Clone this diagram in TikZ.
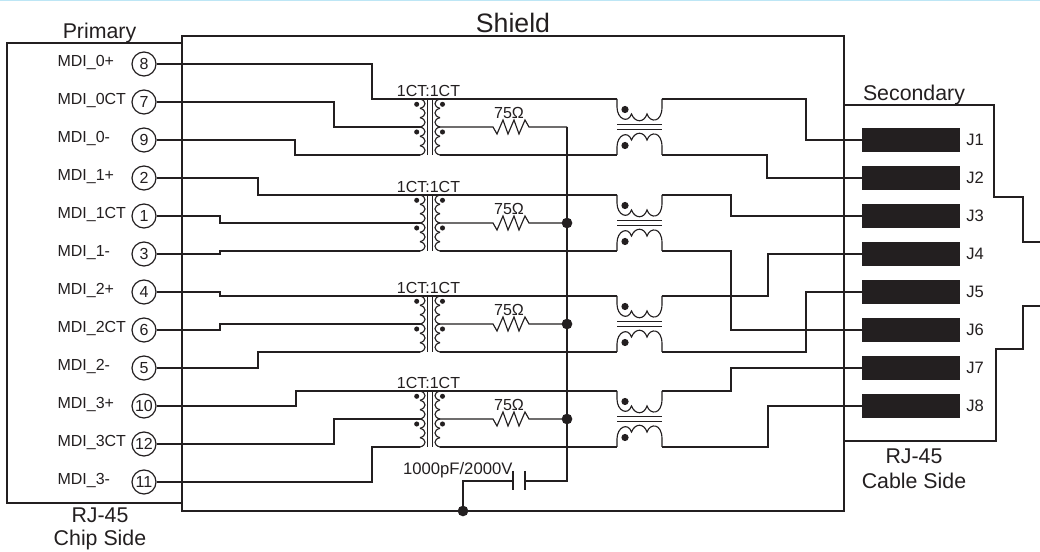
\documentclass[tikz,border=0pt]{standalone}
\usepackage{fontspec}
\setmainfont{Liberation Sans}
\definecolor{ink}{HTML}{231F20}
\definecolor{band}{HTML}{BDE6F5}
\tikzset{
  wire/.style={draw=ink,line width=1.05pt,line join=miter},
  thin wire/.style={draw=ink,line width=0.85pt},
  pin/.style={circle,draw=ink,line width=0.9pt,minimum size=18pt,inner sep=0pt,font=\fontsize{12}{12}\selectfont,text=ink},
  plabel/.style={anchor=west,inner sep=0pt,font=\fontsize{12}{12}\selectfont,text=ink},
  jack/.style={rectangle,fill=ink,minimum width=73.5pt,minimum height=18pt,inner sep=0pt},
  jlabel/.style={anchor=west,inner sep=0pt,font=\fontsize{12.4}{12.4}\selectfont,text=ink},
  big/.style={inner sep=0pt,font=\fontsize{16}{16}\selectfont,text=ink,align=center},
  small/.style={inner sep=0pt,font=\fontsize{12}{12}\selectfont,text=ink},
  junction/.style={circle,fill=ink,minimum size=8pt,inner sep=0pt},
  dotmark/.style={circle,fill=ink,minimum size=#1,inner sep=0pt},
}
\begin{document}
\begin{tikzpicture}[x=0.75pt,y=-0.75pt]
\useasboundingbox (0,0) rectangle (1040,552);
\fill[white] (0,0) rectangle (1040,552);
\fill[band] (0,0) rectangle (1040,1.2);
% outlines
\draw[wire] (182,43) -- (7,43) -- (7,503) -- (182,503);
\draw[wire] (182,36) rectangle (844,511);
\draw[wire] (844,105) -- (994,105) -- (994,197) -- (1023,197) -- (1023,242) -- (1040,242);
\draw[wire] (1040,306) -- (1023,306) -- (1023,349) -- (996,349) -- (996,441) -- (844,441);
\node[inner sep=0pt,font=\fontsize{20}{20}\selectfont,text=ink] (shield) at (513,23) {Shield};
\node[big] (primary) at (99.5,33) {Primary};
\node[big] (secondary) at (914,95) {Secondary};
\node[big] (chip1) at (100,515) {RJ-45};
\node[big] (chip2) at (100,540) {Chip Side};
\node[big] (cable1) at (914,456) {RJ-45};
\node[big] (cable2) at (914,481) {Cable Side};
% pins
\foreach \nm/\num/\lab/\y in {p8/8/MDI\_0+/64,p7/7/MDI\_0CT/102,p9/9/MDI\_0-/140,p2/2/MDI\_1+/178,p1/1/MDI\_1CT/216,p3/3/MDI\_1-/254,p4/4/MDI\_2+/292,p6/6/MDI\_2CT/330,p5/5/MDI\_2-/368,p10/10/MDI\_3+/406,p12/12/MDI\_3CT/444,p11/11/MDI\_3-/482}{
  \node[pin] (\nm) at (144,\y) {\num};
  \node[plabel] (l\nm) at (57.3,\y-1) {\lab};
}
% jacks
\foreach \n/\y in {1/140,2/178,3/216,4/254,5/292,6/330,7/368,8/406}{
  \node[jack] (j\n) at (911,\y) {};
  \node[jlabel] (jl\n) at (966,\y) {J\n};
}
% transformers
\foreach \n/\y in {A/99,B/195,C/296,D/391}{
  \coordinate (\n tl) at (420,\y);
  \coordinate (\n cl) at (420,\y+28);
  \coordinate (\n bl) at (420,\y+56);
  \coordinate (\n tr) at (440,\y);
  \coordinate (\n cr) at (440,\y+28);
  \coordinate (\n br) at (440,\y+56);
  \coordinate (\n ftl) at (617,\y);
  \coordinate (\n ftr) at (662,\y);
  \coordinate (\n fbl) at (617,\y+56);
  \coordinate (\n fbr) at (662,\y+56);
  \foreach \i in {0,...,5}{
    \draw[thin wire] (420,\y+\i*9.333) .. controls (426.7,\y+\i*9.333+1.5) and (426.7,\y+\i*9.333+7.8) .. (420,\y+\i*9.333+9.333);
    \draw[thin wire] (440,\y+\i*9.333) .. controls (433.3,\y+\i*9.333+1.5) and (433.3,\y+\i*9.333+7.8) .. (440,\y+\i*9.333+9.333);
  }
  \draw[thin wire] (427.5,\y) -- (427.5,\y+56) (432.5,\y) -- (432.5,\y+56);
  \node[dotmark=3.8pt] (\n d1) at (416.7,\y+5.3) {};
  \node[dotmark=3.8pt] (\n d2) at (416.7,\y+33) {};
  \node[dotmark=3.8pt] (\n d3) at (442.5,\y+5.3) {};
  \node[dotmark=3.8pt] (\n d4) at (442.5,\y+33) {};
  \node[small] (\n ratio) at (428.5,\y-8) {1CT:1CT};
  % common-mode choke
  \draw[thin wire] (\n ftl) -- (617,\y+8) .. controls (617,\y+20) and (628,\y+25) .. (631.5,\y+15)
     .. controls (635,\y+24) and (644,\y+24) .. (647,\y+15)
     .. controls (650,\y+24) and (662,\y+24) .. (662,\y+8) -- (\n ftr);
  \draw[thin wire] (\n fbl) -- (617,\y+48) .. controls (617,\y+36) and (628,\y+31) .. (631.5,\y+41)
     .. controls (635,\y+32) and (644,\y+32) .. (647,\y+41)
     .. controls (650,\y+32) and (662,\y+32) .. (662,\y+48) -- (\n fbr);
  \draw[thin wire] (617,\y+25.5) -- (662,\y+25.5) (617,\y+30.5) -- (662,\y+30.5);
  \node[dotmark=5.4pt] (\n d5) at (625,\y+10.5) {};
  \node[dotmark=5.4pt] (\n d6) at (625,\y+46.5) {};
  % resistor
  \coordinate (\n ra) at (493,\y+28);
  \coordinate (\n rb) at (529,\y+28);
  \draw[thin wire] (\n cr) -- (\n ra) -- (497,\y+35) -- (503,\y+21) -- (508,\y+35) -- (514,\y+21) -- (519,\y+35) -- (525,\y+21) -- (\n rb) -- (567,\y+28);
  \node[small] (\n res) at (509,\y+14) {75Ω};
  % through wires
  \draw[wire] (\n tl) -- (\n ftl);
  \draw[wire] (\n br) -- (\n fbl);
}
% common node
\coordinate (capL) at (513,481);
\coordinate (capR) at (525,481);
\coordinate (gnd) at (463,511);
\draw[wire] (567,127) -- (567,481) -- (capR);
\draw[wire] (gnd) -- (463,481) -- (capL);
\draw[wire] (capL) ++(0,-10) -- ++(0,19.5);
\draw[wire] (capR) ++(0,-10) -- ++(0,19.5);
\node[inner sep=0pt,font=\fontsize{12.5}{12.5}\selectfont,text=ink,anchor=east] (capt) at (512.7,470) {1000pF/2000V};
\node[junction] (n1) at (567,223) {};
\node[junction] (n2) at (567,324) {};
\node[junction] (n3) at (567,419) {};
\node[junction] (n4) at (gnd) {};
% primary wires
\draw[wire] (p8.east) -| (372,99) -- (Atl);
\draw[wire] (p7.east) -| (334,127) -- (Acl);
\draw[wire] (p9.east) -| (295,155) -- (Abl);
\draw[wire] (p2.east) -| (258,195) -- (Btl);
\draw[wire] (p1.east) -| (220,223) -- (Bcl);
\draw[wire] (p3.east) -| (220,251) -- (Bbl);
\draw[wire] (p4.east) -| (220,296) -- (Ctl);
\draw[wire] (p6.east) -| (220,324) -- (Ccl);
\draw[wire] (p5.east) -| (258,352) -- (Cbl);
\draw[wire] (p10.east) -| (296,391) -- (Dtl);
\draw[wire] (p12.east) -| (334,419) -- (Dcl);
\draw[wire] (p11.east) -| (372,447) -- (Dbl);
% secondary wires
\draw[wire] (Aftr) -| (806,140) -- (j1.west);
\draw[wire] (Afbr) -| (767,178) -- (j2.west);
\draw[wire] (Bftr) -| (731,216) -- (j3.west);
\draw[wire] (Bfbr) -| (731,330) -- (j6.west);
\draw[wire] (Cftr) -| (768,254) -- (j4.west);
\draw[wire] (Cfbr) -| (806,292) -- (j5.west);
\draw[wire] (Dftr) -| (731,368) -- (j7.west);
\draw[wire] (Dfbr) -| (768,406) -- (j8.west);
\end{tikzpicture}
\end{document}
